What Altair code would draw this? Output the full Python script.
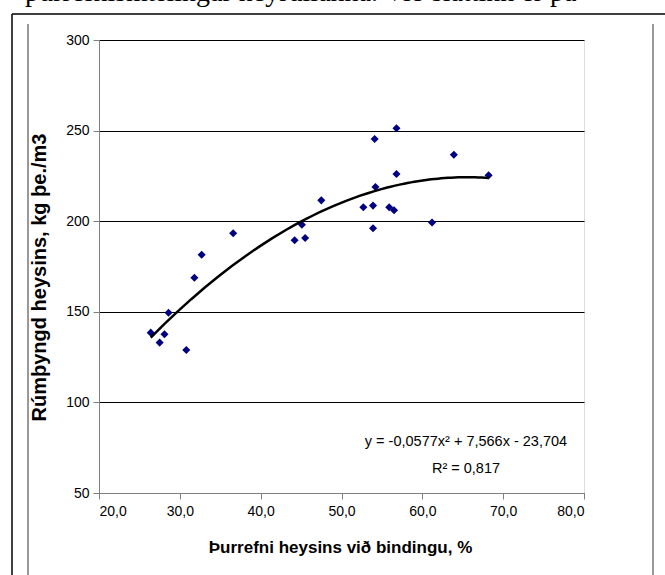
import altair as alt
import pandas as pd

# ---- data ----
dry_matter = [26.4, 27.5, 28.1, 28.6, 30.8, 31.8, 32.7, 36.6,
              44.2, 45.1, 45.5, 47.5, 52.7, 53.9, 53.9, 54.2, 54.1,
              55.9, 56.5, 56.8, 56.8, 61.2, 63.9, 68.2]
density = [138.5, 133.0, 137.6, 149.5, 128.9, 168.8, 181.5, 193.3,
           189.5, 198.1, 190.7, 211.5, 207.7, 208.6, 196.1, 218.9, 245.4,
           207.7, 206.0, 226.0, 251.3, 199.3, 236.7, 225.3]

x_ticks = [20, 30, 40, 50, 60, 70, 80]
y_ticks = [50, 100, 150, 200, 250, 300]

x_title = "Þurrefni heysins við bindingu, %"
y_title = "Rúmþyngd heysins, kg þe./m3"
eq_lines = ["y = -0,0577x² + 7,566x - 23,704", "R² = 0,817"]
eq_x = [65.4, 65.4]
eq_y = [76.0, 61.0]
page_text = "þurrefnismælingar heyrúllanna. Við sláttinn er þá"

W, H = 485, 453
PL, PT = 99, 40
FONT = "Liberation Sans, Arial, sans-serif"

df = pd.DataFrame({"x": dry_matter, "y": density})

xs = alt.Scale(domain=[20, 80], nice=False, zero=False)
ys = alt.Scale(domain=[50, 300], nice=False, zero=False)

x_axis = alt.Axis(values=x_ticks, grid=False,
                  labelExpr="replace(format(datum.value, '.1f'), '.', ',')",
                  domainColor="#808080", tickColor="#808080", tickSize=6,
                  labelPadding=5, labelFont=FONT, labelFontSize=14, labelColor="black",
                  title=x_title, titleFont=FONT, titleFontSize=17, titleFontWeight="bold",
                  titleColor="black", titleX=241, titleY=54, titleBaseline="middle",
                  titleAlign="center", titleAnchor="middle")
y_axis = alt.Axis(values=y_ticks, grid=True, gridColor="black", gridWidth=1,
                  domainColor="#808080", tickColor="#808080", tickSize=6,
                  labelPadding=4, labelFont=FONT, labelFontSize=14, labelColor="black",
                  title=y_title, titleFont=FONT, titleFontSize=20, titleFontWeight="bold",
                  titleColor="black", titleX=-60, titleY=237, titleBaseline="middle",
                  titleAlign="center", titleAngle=270)

points = alt.Chart(df).mark_point(shape="diamond", filled=True, color="#000080",
                                  size=65, opacity=1).encode(
    x=alt.X("x:Q", scale=xs, axis=x_axis),
    y=alt.Y("y:Q", scale=ys, axis=y_axis),
)

trend = alt.Chart(df).transform_regression(
    "x", "y", method="poly", order=2
).mark_line(color="black", strokeWidth=2.5).encode(
    x=alt.X("x:Q", scale=xs), y=alt.Y("y:Q", scale=ys)
)

eq_df = pd.DataFrame({"t": eq_lines, "x": eq_x, "y": eq_y})
eq = alt.Chart(eq_df).mark_text(font=FONT, fontSize=14.5, color="black",
                                align="center", baseline="alphabetic").encode(
    x=alt.X("x:Q", scale=xs), y=alt.Y("y:Q", scale=ys), text="t:N"
)

one = pd.DataFrame({"k": [0]})
frame = [
    alt.Chart(one).mark_rule(color="black", strokeWidth=1.5).encode(
        x=alt.value(-87), y=alt.value(-26), y2=alt.value(540)),
    alt.Chart(one).mark_rule(color="black", strokeWidth=1.5).encode(
        x=alt.value(-87), x2=alt.value(570), y=alt.value(-26)),
    alt.Chart(one).mark_rule(color="#333333", strokeWidth=1).encode(
        x=alt.value(-71), y=alt.value(-16), y2=alt.value(540)),
    alt.Chart(one).mark_rule(color="#333333", strokeWidth=1).encode(
        x=alt.value(554), y=alt.value(-16), y2=alt.value(540)),
]

page = alt.Chart(pd.DataFrame({"t": [page_text]})).mark_text(
    font="Liberation Serif, Times New Roman, serif", fontSize=28, color="black",
    align="left", baseline="alphabetic").encode(
    x=alt.value(-74), y=alt.value(-39), text="t:N")

chart = alt.layer(points, trend, eq, page, *frame).properties(
    width=W, height=H,
    autosize=alt.AutoSizeParams(type="none"),
    padding={"left": PL, "top": PT, "right": 665 - PL - W, "bottom": 575 - PT - H},
).configure_view(stroke="#808080", strokeWidth=1).configure(background="white")

chart.save("out.html", embed_options={"renderer": "svg", "actions": False})
